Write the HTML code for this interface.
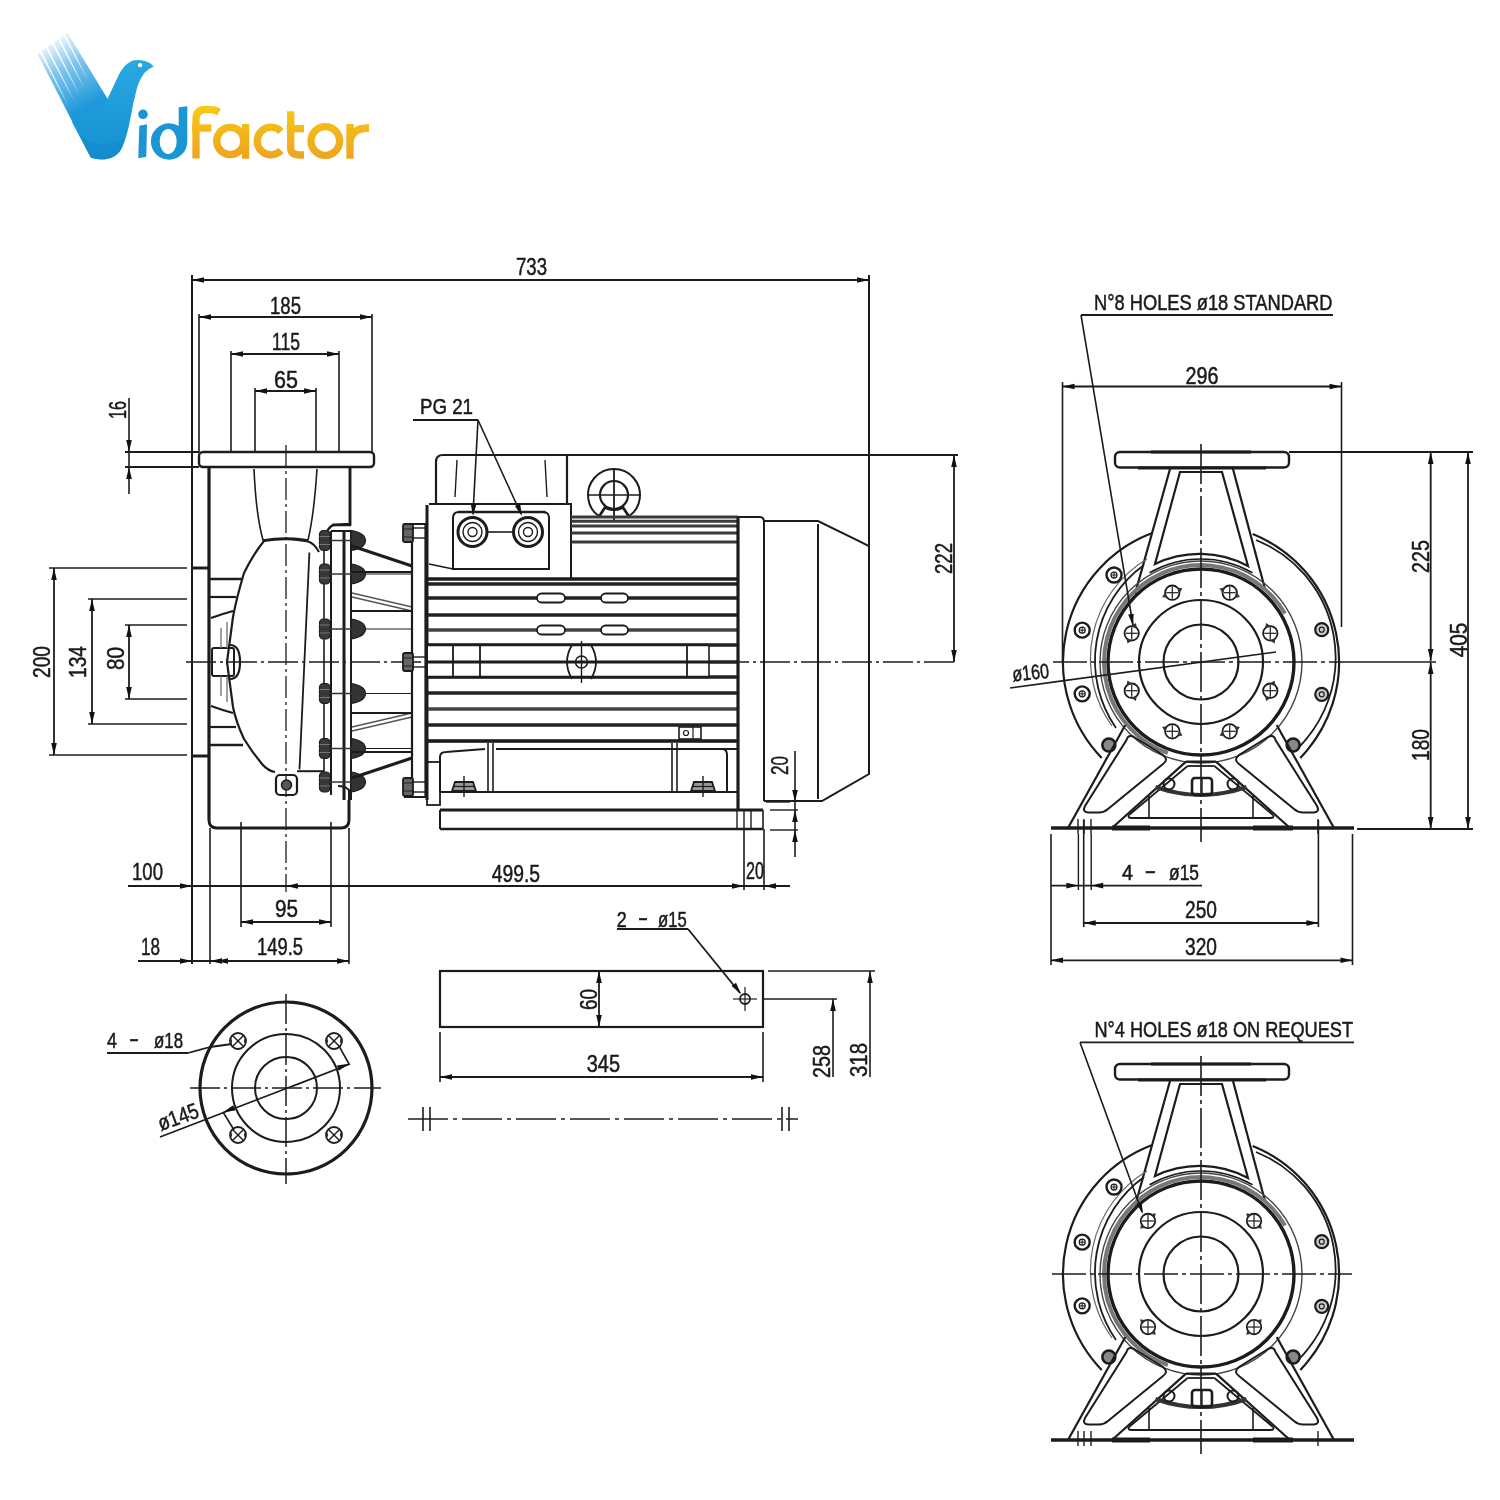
<!DOCTYPE html>
<html><head><meta charset="utf-8"><style>
html,body{margin:0;padding:0;background:#fff;}
svg{display:block;}
text{font-family:"Liberation Sans",sans-serif;} .dt{stroke:#1a1a1a;stroke-width:0.5;}
</style></head><body>
<svg width="1500" height="1500" viewBox="0 0 1500 1500">
<rect width="1500" height="1500" fill="#fff"/>
<g style="opacity:0.999">
<line x1="192" y1="275" x2="192" y2="964" stroke="#1c1c1c" stroke-width="2"/>
<line x1="869" y1="275" x2="869" y2="546" stroke="#1c1c1c" stroke-width="2"/>
<line x1="192" y1="280" x2="869" y2="280" stroke="#1c1c1c" stroke-width="1.8"/>
<polygon points="192.0,280.0 204.0,277.2 204.0,282.8" fill="#111"/>
<polygon points="869.0,280.0 857.0,282.8 857.0,277.2" fill="#111"/>
<text x="516" y="275" font-size="24.5" textLength="31" lengthAdjust="spacingAndGlyphs" fill="#1a1a1a" class="dt">733</text>
<line x1="199" y1="314" x2="199" y2="452" stroke="#1c1c1c" stroke-width="1.6"/>
<line x1="372" y1="314" x2="372" y2="452" stroke="#1c1c1c" stroke-width="1.6"/>
<line x1="199" y1="317" x2="372" y2="317" stroke="#1c1c1c" stroke-width="1.8"/>
<polygon points="199.0,317.0 211.0,314.2 211.0,319.8" fill="#111"/>
<polygon points="372.0,317.0 360.0,319.8 360.0,314.2" fill="#111"/>
<text x="270" y="314" font-size="24.5" textLength="31" lengthAdjust="spacingAndGlyphs" fill="#1a1a1a" class="dt">185</text>
<line x1="231" y1="351" x2="231" y2="452" stroke="#1c1c1c" stroke-width="1.6"/>
<line x1="339" y1="351" x2="339" y2="452" stroke="#1c1c1c" stroke-width="1.6"/>
<line x1="231" y1="354" x2="339" y2="354" stroke="#1c1c1c" stroke-width="1.8"/>
<polygon points="231.0,354.0 243.0,351.2 243.0,356.8" fill="#111"/>
<polygon points="339.0,354.0 327.0,356.8 327.0,351.2" fill="#111"/>
<text x="272" y="350" font-size="24.5" textLength="28" lengthAdjust="spacingAndGlyphs" fill="#1a1a1a" class="dt">115</text>
<line x1="255" y1="388" x2="255" y2="452" stroke="#1c1c1c" stroke-width="1.6"/>
<line x1="316" y1="388" x2="316" y2="452" stroke="#1c1c1c" stroke-width="1.6"/>
<line x1="255" y1="391" x2="316" y2="391" stroke="#1c1c1c" stroke-width="1.8"/>
<polygon points="255.0,391.0 267.0,388.2 267.0,393.8" fill="#111"/>
<polygon points="316.0,391.0 304.0,393.8 304.0,388.2" fill="#111"/>
<text x="274" y="388" font-size="24.5" textLength="24" lengthAdjust="spacingAndGlyphs" fill="#1a1a1a" class="dt">65</text>
<line x1="129" y1="398" x2="129" y2="494" stroke="#1c1c1c" stroke-width="1.6"/>
<polygon points="129.0,452.0 126.2,440.0 131.8,440.0" fill="#111"/>
<polygon points="129.0,467.0 131.8,479.0 126.2,479.0" fill="#111"/>
<line x1="125" y1="452" x2="199" y2="452" stroke="#1c1c1c" stroke-width="1.8"/>
<line x1="125" y1="467" x2="199" y2="467" stroke="#1c1c1c" stroke-width="1.8"/>
<text transform="translate(126,419) rotate(-90)" x="0" y="0" font-size="24.5" textLength="18" lengthAdjust="spacingAndGlyphs" fill="#1a1a1a" class="dt">16</text>
<rect x="199" y="452" width="175" height="15" rx="4" stroke="#1c1c1c" stroke-width="2.4" fill="none"/>
<line x1="286" y1="445" x2="286" y2="892" stroke="#1c1c1c" stroke-width="1.3" stroke-dasharray="22,4,3,4"/>
<line x1="49" y1="568" x2="187" y2="568" stroke="#1c1c1c" stroke-width="1.6"/>
<line x1="49" y1="755" x2="187" y2="755" stroke="#1c1c1c" stroke-width="1.6"/>
<line x1="88" y1="599" x2="187" y2="599" stroke="#1c1c1c" stroke-width="1.6"/>
<line x1="88" y1="724" x2="187" y2="724" stroke="#1c1c1c" stroke-width="1.6"/>
<line x1="125" y1="625" x2="187" y2="625" stroke="#1c1c1c" stroke-width="1.6"/>
<line x1="125" y1="699" x2="187" y2="699" stroke="#1c1c1c" stroke-width="1.6"/>
<line x1="54" y1="568" x2="54" y2="755" stroke="#1c1c1c" stroke-width="1.8"/>
<polygon points="54.0,568.0 56.8,580.0 51.2,580.0" fill="#111"/>
<polygon points="54.0,755.0 51.2,743.0 56.8,743.0" fill="#111"/>
<line x1="92" y1="599" x2="92" y2="724" stroke="#1c1c1c" stroke-width="1.8"/>
<polygon points="92.0,599.0 94.8,611.0 89.2,611.0" fill="#111"/>
<polygon points="92.0,724.0 89.2,712.0 94.8,712.0" fill="#111"/>
<line x1="129" y1="625" x2="129" y2="699" stroke="#1c1c1c" stroke-width="1.8"/>
<polygon points="129.0,625.0 131.8,637.0 126.2,637.0" fill="#111"/>
<polygon points="129.0,699.0 126.2,687.0 131.8,687.0" fill="#111"/>
<text transform="translate(50,678) rotate(-90)" x="0" y="0" font-size="24.5" textLength="32" lengthAdjust="spacingAndGlyphs" fill="#1a1a1a" class="dt">200</text>
<text transform="translate(86,678) rotate(-90)" x="0" y="0" font-size="24.5" textLength="32" lengthAdjust="spacingAndGlyphs" fill="#1a1a1a" class="dt">134</text>
<text transform="translate(124,670) rotate(-90)" x="0" y="0" font-size="24.5" textLength="23" lengthAdjust="spacingAndGlyphs" fill="#1a1a1a" class="dt">80</text>
<line x1="186" y1="662" x2="958" y2="662" stroke="#1c1c1c" stroke-width="1.3" stroke-dasharray="30,4,3,4"/>
<line x1="209" y1="467" x2="209" y2="820" stroke="#1c1c1c" stroke-width="3.2"/>
<path d="M209,820 Q209,828 217,828 L341,828 Q349,828 349,820 L349,800" stroke="#1c1c1c" stroke-width="3" fill="none" />
<line x1="192" y1="568" x2="209" y2="568" stroke="#1c1c1c" stroke-width="3"/>
<line x1="192" y1="756" x2="209" y2="756" stroke="#1c1c1c" stroke-width="3"/>
<path d="M350,467 L350,525 L332,525" stroke="#1c1c1c" stroke-width="2.4" fill="none" />
<line x1="567" y1="455" x2="958" y2="455" stroke="#1c1c1c" stroke-width="1.8"/>
<line x1="954" y1="455" x2="954" y2="662" stroke="#1c1c1c" stroke-width="1.8"/>
<polygon points="954.0,455.0 956.8,467.0 951.2,467.0" fill="#111"/>
<polygon points="954.0,662.0 951.2,650.0 956.8,650.0" fill="#111"/>
<text transform="translate(952,574) rotate(-90)" x="0" y="0" font-size="24.5" textLength="31" lengthAdjust="spacingAndGlyphs" fill="#1a1a1a" class="dt">222</text>
<line x1="128" y1="886" x2="790" y2="886" stroke="#1c1c1c" stroke-width="1.8"/>
<polygon points="192.0,886.0 180.0,888.8 180.0,883.2" fill="#111"/>
<polygon points="286.0,886.0 298.0,883.2 298.0,888.8" fill="#111"/>
<text x="132" y="880" font-size="24.5" textLength="31" lengthAdjust="spacingAndGlyphs" fill="#1a1a1a" class="dt">100</text>
<polygon points="744.0,886.0 732.0,888.8 732.0,883.2" fill="#111"/>
<polygon points="764.0,886.0 776.0,883.2 776.0,888.8" fill="#111"/>
<text x="491.7" y="881.7" font-size="24.5" textLength="48.30000000000001" lengthAdjust="spacingAndGlyphs" fill="#1a1a1a" class="dt">499.5</text>
<text x="746" y="879" font-size="24.5" textLength="18" lengthAdjust="spacingAndGlyphs" fill="#1a1a1a" class="dt">20</text>
<line x1="744" y1="829" x2="744" y2="890" stroke="#1c1c1c" stroke-width="1.6"/>
<line x1="764" y1="829" x2="764" y2="890" stroke="#1c1c1c" stroke-width="1.6"/>
<line x1="241" y1="822" x2="241" y2="927" stroke="#1c1c1c" stroke-width="1.6"/>
<line x1="331" y1="822" x2="331" y2="927" stroke="#1c1c1c" stroke-width="1.6"/>
<line x1="241" y1="922" x2="331" y2="922" stroke="#1c1c1c" stroke-width="1.8"/>
<polygon points="241.0,922.0 253.0,919.2 253.0,924.8" fill="#111"/>
<polygon points="331.0,922.0 319.0,924.8 319.0,919.2" fill="#111"/>
<text x="275" y="917" font-size="24.5" textLength="23" lengthAdjust="spacingAndGlyphs" fill="#1a1a1a" class="dt">95</text>
<line x1="138" y1="961" x2="349" y2="961" stroke="#1c1c1c" stroke-width="1.8"/>
<line x1="210" y1="828" x2="210" y2="964" stroke="#1c1c1c" stroke-width="1.6"/>
<line x1="349" y1="828" x2="349" y2="964" stroke="#1c1c1c" stroke-width="1.6"/>
<polygon points="192.0,961.0 180.0,963.8 180.0,958.2" fill="#111"/>
<polygon points="210.0,961.0 222.0,958.2 222.0,963.8" fill="#111"/>
<polygon points="349.0,961.0 337.0,963.8 337.0,958.2" fill="#111"/>
<text x="141" y="955" font-size="24.5" textLength="19" lengthAdjust="spacingAndGlyphs" fill="#1a1a1a" class="dt">18</text>
<text x="257" y="955" font-size="24.5" textLength="46" lengthAdjust="spacingAndGlyphs" fill="#1a1a1a" class="dt">149.5</text>
<polygon points="216.0,961.0 228.0,958.2 228.0,963.8" fill="#111"/>
<line x1="795" y1="751" x2="795" y2="857" stroke="#1c1c1c" stroke-width="1.6"/>
<polygon points="795.0,802.0 792.2,790.0 797.8,790.0" fill="#111"/>
<polygon points="795.0,810.0 797.8,822.0 792.2,822.0" fill="#111"/>
<line x1="766" y1="802" x2="790" y2="802" stroke="#1c1c1c" stroke-width="1.4"/>
<line x1="770" y1="810" x2="798" y2="810" stroke="#1c1c1c" stroke-width="1.4"/>
<line x1="770" y1="830" x2="798" y2="830" stroke="#1c1c1c" stroke-width="1.4"/>
<polygon points="795.0,830.0 797.8,842.0 792.2,842.0" fill="#111"/>
<text transform="translate(788,775) rotate(-90)" x="0" y="0" font-size="24.5" textLength="19" lengthAdjust="spacingAndGlyphs" fill="#1a1a1a" class="dt">20</text>
<rect x="440" y="971" width="323" height="56" rx="0" stroke="#1c1c1c" stroke-width="2.2" fill="none"/>
<line x1="599" y1="971" x2="599" y2="1027" stroke="#1c1c1c" stroke-width="1.8"/>
<polygon points="599.0,971.0 601.8,983.0 596.2,983.0" fill="#111"/>
<polygon points="599.0,1027.0 596.2,1015.0 601.8,1015.0" fill="#111"/>
<text transform="translate(597,1010) rotate(-90)" x="0" y="0" font-size="24.5" textLength="21" lengthAdjust="spacingAndGlyphs" fill="#1a1a1a" class="dt">60</text>
<circle cx="745" cy="999" r="5" stroke="#1c1c1c" stroke-width="1.8" fill="none"/>
<line x1="733" y1="999" x2="757" y2="999" stroke="#1c1c1c" stroke-width="1.2"/>
<line x1="745" y1="987" x2="745" y2="1011" stroke="#1c1c1c" stroke-width="1.2"/>
<line x1="617" y1="929" x2="688" y2="929" stroke="#1c1c1c" stroke-width="1.8"/>
<line x1="688" y1="929" x2="740" y2="993" stroke="#1c1c1c" stroke-width="1.8"/>
<polygon points="741.0,994.0 731.6,986.1 736.0,982.7" fill="#111"/>
<text x="616.7" y="927" font-size="22" textLength="10.0" lengthAdjust="spacingAndGlyphs" fill="#1a1a1a" class="dt">2</text>
<text x="638" y="925" font-size="22" textLength="10" lengthAdjust="spacingAndGlyphs" fill="#1a1a1a" class="dt">-</text>
<text x="658" y="927" font-size="22" textLength="28.700000000000045" lengthAdjust="spacingAndGlyphs" fill="#1a1a1a" class="dt">ø15</text>
<line x1="440" y1="1032" x2="440" y2="1082" stroke="#1c1c1c" stroke-width="1.6"/>
<line x1="763" y1="1032" x2="763" y2="1082" stroke="#1c1c1c" stroke-width="1.6"/>
<line x1="440" y1="1077" x2="763" y2="1077" stroke="#1c1c1c" stroke-width="1.8"/>
<polygon points="440.0,1077.0 452.0,1074.2 452.0,1079.8" fill="#111"/>
<polygon points="763.0,1077.0 751.0,1079.8 751.0,1074.2" fill="#111"/>
<text x="586.7" y="1071.7" font-size="24.5" textLength="33.299999999999955" lengthAdjust="spacingAndGlyphs" fill="#1a1a1a" class="dt">345</text>
<line x1="768" y1="971" x2="875" y2="971" stroke="#1c1c1c" stroke-width="1.6"/>
<line x1="763" y1="999" x2="837" y2="999" stroke="#1c1c1c" stroke-width="1.6"/>
<line x1="870" y1="971" x2="870" y2="1077" stroke="#1c1c1c" stroke-width="1.6"/>
<polygon points="870.0,971.0 872.8,983.0 867.2,983.0" fill="#111"/>
<line x1="833" y1="999" x2="833" y2="1077" stroke="#1c1c1c" stroke-width="1.6"/>
<polygon points="833.0,999.0 835.8,1011.0 830.2,1011.0" fill="#111"/>
<text transform="translate(866.7,1077) rotate(-90)" x="0" y="0" font-size="24.5" textLength="34" lengthAdjust="spacingAndGlyphs" fill="#1a1a1a" class="dt">318</text>
<text transform="translate(830,1078) rotate(-90)" x="0" y="0" font-size="24.5" textLength="33" lengthAdjust="spacingAndGlyphs" fill="#1a1a1a" class="dt">258</text>
<line x1="408" y1="1119" x2="798" y2="1119" stroke="#1c1c1c" stroke-width="1.6" stroke-dasharray="40,5,4,5"/>
<line x1="423" y1="1107" x2="423" y2="1131" stroke="#1c1c1c" stroke-width="1.6"/>
<line x1="430" y1="1107" x2="430" y2="1131" stroke="#1c1c1c" stroke-width="1.6"/>
<line x1="782" y1="1107" x2="782" y2="1131" stroke="#1c1c1c" stroke-width="1.6"/>
<line x1="789" y1="1107" x2="789" y2="1131" stroke="#1c1c1c" stroke-width="1.6"/>
<circle cx="286" cy="1088" r="86" stroke="#1c1c1c" stroke-width="3.2" fill="none"/>
<circle cx="286" cy="1088" r="54" stroke="#1c1c1c" stroke-width="2" fill="none"/>
<circle cx="286" cy="1088" r="31" stroke="#1c1c1c" stroke-width="2" fill="none"/>
<line x1="190" y1="1088" x2="381" y2="1088" stroke="#1c1c1c" stroke-width="1.5" stroke-dasharray="30,4,3,4"/>
<line x1="286" y1="994" x2="286" y2="1184" stroke="#1c1c1c" stroke-width="1.5" stroke-dasharray="30,4,3,4"/>
<circle cx="238" cy="1041" r="8" stroke="#1c1c1c" stroke-width="1.8" fill="none"/>
<line x1="232.5" y1="1035.5" x2="243.5" y2="1046.5" stroke="#1c1c1c" stroke-width="1.4"/>
<line x1="232.5" y1="1046.5" x2="243.5" y2="1035.5" stroke="#1c1c1c" stroke-width="1.4"/>
<polygon points="229.0,1041.0 232.0,1039.0 232.0,1043.0" fill="#333"/>
<polygon points="247.0,1041.0 244.0,1043.0 244.0,1039.0" fill="#333"/>
<circle cx="334" cy="1041" r="8" stroke="#1c1c1c" stroke-width="1.8" fill="none"/>
<line x1="328.5" y1="1035.5" x2="339.5" y2="1046.5" stroke="#1c1c1c" stroke-width="1.4"/>
<line x1="328.5" y1="1046.5" x2="339.5" y2="1035.5" stroke="#1c1c1c" stroke-width="1.4"/>
<polygon points="325.0,1041.0 328.0,1039.0 328.0,1043.0" fill="#333"/>
<polygon points="343.0,1041.0 340.0,1043.0 340.0,1039.0" fill="#333"/>
<circle cx="238" cy="1135" r="8" stroke="#1c1c1c" stroke-width="1.8" fill="none"/>
<line x1="232.5" y1="1129.5" x2="243.5" y2="1140.5" stroke="#1c1c1c" stroke-width="1.4"/>
<line x1="232.5" y1="1140.5" x2="243.5" y2="1129.5" stroke="#1c1c1c" stroke-width="1.4"/>
<polygon points="229.0,1135.0 232.0,1133.0 232.0,1137.0" fill="#333"/>
<polygon points="247.0,1135.0 244.0,1137.0 244.0,1133.0" fill="#333"/>
<circle cx="334" cy="1135" r="8" stroke="#1c1c1c" stroke-width="1.8" fill="none"/>
<line x1="328.5" y1="1129.5" x2="339.5" y2="1140.5" stroke="#1c1c1c" stroke-width="1.4"/>
<line x1="328.5" y1="1140.5" x2="339.5" y2="1129.5" stroke="#1c1c1c" stroke-width="1.4"/>
<polygon points="325.0,1135.0 328.0,1133.0 328.0,1137.0" fill="#333"/>
<polygon points="343.0,1135.0 340.0,1137.0 340.0,1133.0" fill="#333"/>
<line x1="107" y1="1053" x2="188" y2="1053" stroke="#1c1c1c" stroke-width="1.8"/>
<line x1="188" y1="1053" x2="210" y2="1047" stroke="#1c1c1c" stroke-width="1.8"/>
<line x1="210" y1="1047" x2="232" y2="1044" stroke="#1c1c1c" stroke-width="1.8"/>
<text x="107" y="1048" font-size="22" textLength="10" lengthAdjust="spacingAndGlyphs" fill="#1a1a1a" class="dt">4</text>
<text x="129" y="1046" font-size="22" textLength="10" lengthAdjust="spacingAndGlyphs" fill="#1a1a1a" class="dt">-</text>
<text x="154" y="1048" font-size="22" textLength="29" lengthAdjust="spacingAndGlyphs" fill="#1a1a1a" class="dt">ø18</text>
<line x1="160" y1="1137" x2="350" y2="1064" stroke="#1c1c1c" stroke-width="1.8"/>
<text transform="translate(161,1131) rotate(-20)" x="0" y="0" font-size="22" textLength="42" lengthAdjust="spacingAndGlyphs" fill="#1a1a1a" class="dt">ø145</text>
<polygon points="349.0,1063.8 338.8,1070.7 336.8,1065.5" fill="#111"/>
<polygon points="223.0,1112.2 233.2,1105.3 235.2,1110.5" fill="#111"/>
<line x1="349" y1="1064" x2="339" y2="1046" stroke="#1c1c1c" stroke-width="1.6"/>
<line x1="223" y1="1112" x2="234" y2="1130" stroke="#1c1c1c" stroke-width="1.6"/>
<path d="M254,469 Q256,515 263,540 Q286,536 308,540 Q314,515 317,469" stroke="#1c1c1c" stroke-width="1.6" fill="none" />
<path d="M319,552 Q314,543 308,541.5 Q286,537 264,541 Q254,553 244,573 Q236,600 233,617 L227,662 L233,707 Q236,722 244,739 Q252,752 262,764 Q268,771 275,772" stroke="#1c1c1c" stroke-width="2.2" fill="none" />
<line x1="297" y1="771.2" x2="324" y2="771.2" stroke="#1c1c1c" stroke-width="2"/>
<line x1="309.4" y1="552.5" x2="299.5" y2="769.4" stroke="#1c1c1c" stroke-width="1.8"/>
<path d="M233,611 Q222,614 211,618" stroke="#1c1c1c" stroke-width="2.2" fill="none" />
<path d="M233,713 Q222,710 211,706" stroke="#1c1c1c" stroke-width="2.2" fill="none" />
<line x1="210" y1="579" x2="243" y2="579" stroke="#1c1c1c" stroke-width="2.6"/>
<line x1="210" y1="597" x2="236" y2="597" stroke="#1c1c1c" stroke-width="2.2"/>
<line x1="210" y1="745" x2="243" y2="745" stroke="#1c1c1c" stroke-width="2.6"/>
<line x1="210" y1="727" x2="236" y2="727" stroke="#1c1c1c" stroke-width="2.2"/>
<rect x="212" y="648" width="22" height="28" rx="2" stroke="#1c1c1c" stroke-width="2" fill="none"/>
<path d="M230,645 Q240,645 240,662 Q240,679 230,679" stroke="#1c1c1c" stroke-width="2.2" fill="none" />
<line x1="221" y1="628" x2="221" y2="648" stroke="#777" stroke-width="1.4"/>
<line x1="227" y1="622" x2="227" y2="648" stroke="#777" stroke-width="1.4"/>
<line x1="221" y1="676" x2="221" y2="696" stroke="#777" stroke-width="1.4"/>
<line x1="227" y1="676" x2="227" y2="702" stroke="#777" stroke-width="1.4"/>
<path d="M350,467 L350,524 L333,525 Q328,528 326,534" stroke="#1c1c1c" stroke-width="2.6" fill="none" />
<path d="M349,800 L349,790 Q345,786 338,786" stroke="#1c1c1c" stroke-width="2" fill="none" />
<line x1="324" y1="534" x2="324" y2="790" stroke="#1c1c1c" stroke-width="1.6"/>
<line x1="331" y1="531" x2="331" y2="795" stroke="#1c1c1c" stroke-width="2"/>
<line x1="344" y1="531" x2="344" y2="800" stroke="#1c1c1c" stroke-width="3"/>
<line x1="351" y1="531" x2="351" y2="800" stroke="#1c1c1c" stroke-width="2"/>
<line x1="331" y1="531" x2="351" y2="531" stroke="#1c1c1c" stroke-width="2"/>
<rect x="319.5" y="530.5" width="10.5" height="20" rx="4" stroke="#1c1c1c" stroke-width="1.2" fill="#3a3a3a"/>
<line x1="319.5" y1="536.5" x2="330" y2="536.5" stroke="#777" stroke-width="1"/>
<line x1="319.5" y1="544.5" x2="330" y2="544.5" stroke="#777" stroke-width="1"/>
<path d="M351,530.5 Q365,532.5 365.5,540.5 Q365,548.5 351,550.5 Z" stroke="#1c1c1c" stroke-width="1.2" fill="#333" />
<line x1="319" y1="540.5" x2="365" y2="540.5" stroke="#333" stroke-width="1.3"/>
<rect x="319.5" y="564" width="10.5" height="20" rx="4" stroke="#1c1c1c" stroke-width="1.2" fill="#3a3a3a"/>
<line x1="319.5" y1="570" x2="330" y2="570" stroke="#777" stroke-width="1"/>
<line x1="319.5" y1="578" x2="330" y2="578" stroke="#777" stroke-width="1"/>
<path d="M351,564 Q365,566 365.5,574 Q365,582 351,584 Z" stroke="#1c1c1c" stroke-width="1.2" fill="#333" />
<line x1="319" y1="574" x2="365" y2="574" stroke="#333" stroke-width="1.3"/>
<rect x="319.5" y="619" width="10.5" height="20" rx="4" stroke="#1c1c1c" stroke-width="1.2" fill="#3a3a3a"/>
<line x1="319.5" y1="625" x2="330" y2="625" stroke="#777" stroke-width="1"/>
<line x1="319.5" y1="633" x2="330" y2="633" stroke="#777" stroke-width="1"/>
<path d="M351,619 Q365,621 365.5,629 Q365,637 351,639 Z" stroke="#1c1c1c" stroke-width="1.2" fill="#333" />
<line x1="319" y1="629" x2="365" y2="629" stroke="#333" stroke-width="1.3"/>
<rect x="319.5" y="683.5" width="10.5" height="20" rx="4" stroke="#1c1c1c" stroke-width="1.2" fill="#3a3a3a"/>
<line x1="319.5" y1="689.5" x2="330" y2="689.5" stroke="#777" stroke-width="1"/>
<line x1="319.5" y1="697.5" x2="330" y2="697.5" stroke="#777" stroke-width="1"/>
<path d="M351,683.5 Q365,685.5 365.5,693.5 Q365,701.5 351,703.5 Z" stroke="#1c1c1c" stroke-width="1.2" fill="#333" />
<line x1="319" y1="693.5" x2="365" y2="693.5" stroke="#333" stroke-width="1.3"/>
<rect x="319.5" y="738.5" width="10.5" height="20" rx="4" stroke="#1c1c1c" stroke-width="1.2" fill="#3a3a3a"/>
<line x1="319.5" y1="744.5" x2="330" y2="744.5" stroke="#777" stroke-width="1"/>
<line x1="319.5" y1="752.5" x2="330" y2="752.5" stroke="#777" stroke-width="1"/>
<path d="M351,738.5 Q365,740.5 365.5,748.5 Q365,756.5 351,758.5 Z" stroke="#1c1c1c" stroke-width="1.2" fill="#333" />
<line x1="319" y1="748.5" x2="365" y2="748.5" stroke="#333" stroke-width="1.3"/>
<rect x="319.5" y="772" width="10.5" height="20" rx="4" stroke="#1c1c1c" stroke-width="1.2" fill="#3a3a3a"/>
<line x1="319.5" y1="778" x2="330" y2="778" stroke="#777" stroke-width="1"/>
<line x1="319.5" y1="786" x2="330" y2="786" stroke="#777" stroke-width="1"/>
<path d="M351,772 Q365,774 365.5,782 Q365,790 351,792 Z" stroke="#1c1c1c" stroke-width="1.2" fill="#333" />
<line x1="319" y1="782" x2="365" y2="782" stroke="#333" stroke-width="1.3"/>
<line x1="365" y1="574" x2="412" y2="574" stroke="#1c1c1c" stroke-width="1.2"/>
<line x1="365" y1="629" x2="412" y2="629" stroke="#1c1c1c" stroke-width="1.2"/>
<line x1="365" y1="693.5" x2="412" y2="693.5" stroke="#1c1c1c" stroke-width="1.2"/>
<line x1="365" y1="748.5" x2="412" y2="748.5" stroke="#1c1c1c" stroke-width="1.2"/>
<rect x="276" y="775" width="21" height="20" rx="4" stroke="#1c1c1c" stroke-width="2.2" fill="none"/>
<circle cx="286.5" cy="785" r="5" stroke="#1c1c1c" stroke-width="1.5" fill="#555"/>
<line x1="352" y1="546" x2="412" y2="566" stroke="#1c1c1c" stroke-width="3"/>
<line x1="352" y1="572" x2="412" y2="572" stroke="#1c1c1c" stroke-width="1.8"/>
<path d="M352,593 L412,607 M352,597 L412,611" stroke="#555" stroke-width="1.6" fill="none" />
<line x1="352" y1="611" x2="412" y2="611" stroke="#1c1c1c" stroke-width="1.8"/>
<line x1="352" y1="778" x2="412" y2="758" stroke="#1c1c1c" stroke-width="3"/>
<line x1="352" y1="752" x2="412" y2="752" stroke="#1c1c1c" stroke-width="1.8"/>
<path d="M352,731 L412,717 M352,727 L412,713" stroke="#555" stroke-width="1.6" fill="none" />
<line x1="352" y1="713" x2="412" y2="713" stroke="#1c1c1c" stroke-width="1.8"/>
<line x1="412" y1="524" x2="412" y2="797" stroke="#1c1c1c" stroke-width="2.2"/>
<line x1="425.5" y1="524" x2="425.5" y2="797" stroke="#1c1c1c" stroke-width="2.2"/>
<line x1="404" y1="524" x2="426" y2="524" stroke="#1c1c1c" stroke-width="2"/>
<rect x="403" y="524" width="10" height="18" rx="2" stroke="#1c1c1c" stroke-width="1.8" fill="#666"/>
<line x1="403" y1="529" x2="413" y2="529" stroke="#222" stroke-width="1"/>
<line x1="403" y1="537" x2="413" y2="537" stroke="#222" stroke-width="1"/>
<line x1="412" y1="528" x2="426" y2="528" stroke="#1c1c1c" stroke-width="1.4"/>
<line x1="412" y1="538" x2="426" y2="538" stroke="#1c1c1c" stroke-width="1.4"/>
<rect x="403" y="653" width="10" height="18" rx="2" stroke="#1c1c1c" stroke-width="1.8" fill="#666"/>
<line x1="403" y1="658" x2="413" y2="658" stroke="#222" stroke-width="1"/>
<line x1="403" y1="666" x2="413" y2="666" stroke="#222" stroke-width="1"/>
<line x1="412" y1="657" x2="426" y2="657" stroke="#1c1c1c" stroke-width="1.4"/>
<line x1="412" y1="667" x2="426" y2="667" stroke="#1c1c1c" stroke-width="1.4"/>
<rect x="403" y="778" width="10" height="18" rx="2" stroke="#1c1c1c" stroke-width="1.8" fill="#666"/>
<line x1="403" y1="783" x2="413" y2="783" stroke="#222" stroke-width="1"/>
<line x1="403" y1="791" x2="413" y2="791" stroke="#222" stroke-width="1"/>
<line x1="412" y1="782" x2="426" y2="782" stroke="#1c1c1c" stroke-width="1.4"/>
<line x1="412" y1="792" x2="426" y2="792" stroke="#1c1c1c" stroke-width="1.4"/>
<line x1="404" y1="797" x2="426" y2="797" stroke="#1c1c1c" stroke-width="2"/>
<line x1="427" y1="505" x2="427" y2="800" stroke="#1c1c1c" stroke-width="3"/>
<path d="M436,503 L436,462 Q436,455 443,455 L567,455 L567,503" stroke="#1c1c1c" stroke-width="2.2" fill="none" />
<path d="M457,460 L455,497 M545,460 L547,497" stroke="#1c1c1c" stroke-width="1.4" fill="none" />
<line x1="436" y1="504" x2="460" y2="504" stroke="#1c1c1c" stroke-width="2"/>
<line x1="470" y1="504" x2="505" y2="504" stroke="#1c1c1c" stroke-width="2"/>
<line x1="515" y1="504" x2="567" y2="504" stroke="#1c1c1c" stroke-width="2"/>
<path d="M429,504 L571,504 L571,579" stroke="#1c1c1c" stroke-width="2" fill="none" />
<path d="M453,569 L453,518 Q453,512 459,512 L543,512 Q549,512 549,518 L549,569 Z" stroke="#1c1c1c" stroke-width="2" fill="none" />
<line x1="429" y1="564" x2="453" y2="569" stroke="#1c1c1c" stroke-width="1.6"/>
<line x1="458" y1="512" x2="545" y2="512" stroke="#1c1c1c" stroke-width="2.4"/>
<circle cx="472.5" cy="532" r="14.5" stroke="#1c1c1c" stroke-width="3" fill="none"/>
<circle cx="472.5" cy="532" r="9.5" stroke="#1c1c1c" stroke-width="1.4" fill="none"/>
<circle cx="472.5" cy="532" r="4.5" stroke="#1c1c1c" stroke-width="1.4" fill="none"/>
<circle cx="528" cy="532" r="14.5" stroke="#1c1c1c" stroke-width="3" fill="none"/>
<circle cx="528" cy="532" r="9.5" stroke="#1c1c1c" stroke-width="1.4" fill="none"/>
<circle cx="528" cy="532" r="4.5" stroke="#1c1c1c" stroke-width="1.4" fill="none"/>
<line x1="487" y1="532" x2="513" y2="532" stroke="#1c1c1c" stroke-width="1.6"/>
<path d="M599.1,516.3 A26,26 0 1,1 628.9,516.3" stroke="#1c1c1c" stroke-width="2" fill="none" />
<circle cx="614" cy="495" r="14" stroke="#1c1c1c" stroke-width="2.2" fill="none"/>
<line x1="614" y1="468" x2="614" y2="522" stroke="#1c1c1c" stroke-width="1.8"/>
<line x1="587" y1="495" x2="641" y2="495" stroke="#1c1c1c" stroke-width="1.6"/>
<path d="M599,516.5 L605,507.5 Q614,512 623,507.5 L629,516.5" stroke="#1c1c1c" stroke-width="2.8" fill="none" />
<line x1="571" y1="517" x2="738" y2="517" stroke="#3a3a3a" stroke-width="3"/>
<line x1="571" y1="521.3" x2="738" y2="521.3" stroke="#3a3a3a" stroke-width="3"/>
<line x1="571" y1="526" x2="738" y2="526" stroke="#3a3a3a" stroke-width="3"/>
<line x1="571" y1="533" x2="738" y2="533" stroke="#3a3a3a" stroke-width="3"/>
<line x1="571" y1="542" x2="738" y2="542" stroke="#3a3a3a" stroke-width="3"/>
<line x1="571" y1="579" x2="738" y2="579" stroke="#1c1c1c" stroke-width="3.6"/>
<line x1="428" y1="584" x2="738" y2="584" stroke="#222" stroke-width="3.6"/>
<line x1="428" y1="598" x2="738" y2="598" stroke="#222" stroke-width="3.6"/>
<line x1="428" y1="615" x2="738" y2="615" stroke="#222" stroke-width="3.6"/>
<line x1="428" y1="630" x2="738" y2="630" stroke="#444" stroke-width="3.6"/>
<line x1="428" y1="645" x2="738" y2="645" stroke="#222" stroke-width="3.6"/>
<line x1="428" y1="662" x2="738" y2="662" stroke="#222" stroke-width="3.6"/>
<line x1="428" y1="677" x2="738" y2="677" stroke="#222" stroke-width="3.6"/>
<line x1="428" y1="693" x2="738" y2="693" stroke="#222" stroke-width="3.6"/>
<line x1="428" y1="709" x2="738" y2="709" stroke="#444" stroke-width="3.6"/>
<line x1="428" y1="725" x2="738" y2="725" stroke="#222" stroke-width="3.6"/>
<line x1="428" y1="741" x2="738" y2="741" stroke="#222" stroke-width="3.6"/>
<line x1="428" y1="579" x2="571" y2="579" stroke="#1c1c1c" stroke-width="3.4"/>
<rect x="537" y="593.5" width="28" height="9" rx="4.5" stroke="#1c1c1c" stroke-width="1.8" fill="#fff"/>
<rect x="601" y="593.5" width="27" height="9" rx="4.5" stroke="#1c1c1c" stroke-width="1.8" fill="#fff"/>
<rect x="537" y="625.5" width="28" height="9" rx="4.5" stroke="#1c1c1c" stroke-width="1.8" fill="#fff"/>
<rect x="601" y="625.5" width="27" height="9" rx="4.5" stroke="#1c1c1c" stroke-width="1.8" fill="#fff"/>
<rect x="428" y="645" width="281" height="32" rx="0" stroke="#1c1c1c" stroke-width="0" fill="#fff"/>
<line x1="428" y1="645" x2="709" y2="645" stroke="#1c1c1c" stroke-width="2.4"/>
<line x1="428" y1="677" x2="709" y2="677" stroke="#1c1c1c" stroke-width="2.4"/>
<line x1="428" y1="662" x2="709" y2="662" stroke="#1c1c1c" stroke-width="3"/>
<line x1="453" y1="645" x2="453" y2="677" stroke="#1c1c1c" stroke-width="1.8"/>
<line x1="480" y1="645" x2="480" y2="677" stroke="#1c1c1c" stroke-width="1.8"/>
<line x1="687" y1="645" x2="687" y2="677" stroke="#1c1c1c" stroke-width="1.8"/>
<line x1="709" y1="645" x2="709" y2="677" stroke="#1c1c1c" stroke-width="1.6"/>
<path d="M572,645 Q562,662 572,679 M591,645 Q601,662 591,679" stroke="#1c1c1c" stroke-width="1.8" fill="none" />
<circle cx="581.5" cy="662" r="6" stroke="#1c1c1c" stroke-width="1.5" fill="none"/>
<line x1="581.5" y1="641" x2="581.5" y2="683" stroke="#1c1c1c" stroke-width="1.4"/>
<rect x="679" y="727" width="22" height="12" rx="0" stroke="#1c1c1c" stroke-width="1.6" fill="#fff"/>
<circle cx="686" cy="733" r="2.5" stroke="#1c1c1c" stroke-width="1.2" fill="none"/>
<line x1="693" y1="727" x2="693" y2="739" stroke="#1c1c1c" stroke-width="1.2"/>
<line x1="428" y1="741" x2="738" y2="741" stroke="#1c1c1c" stroke-width="2.6"/>
<line x1="496" y1="749" x2="738" y2="749" stroke="#1c1c1c" stroke-width="2.2"/>
<path d="M440,792 L440,757 Q440,752 446,752 L485,749" stroke="#1c1c1c" stroke-width="2" fill="none" />
<line x1="488" y1="743" x2="488" y2="792" stroke="#1c1c1c" stroke-width="1.6"/>
<line x1="493" y1="743" x2="493" y2="792" stroke="#1c1c1c" stroke-width="1.6"/>
<line x1="672" y1="743" x2="672" y2="792" stroke="#1c1c1c" stroke-width="1.6"/>
<line x1="677" y1="743" x2="677" y2="792" stroke="#1c1c1c" stroke-width="1.6"/>
<path d="M678,749 L722,749 Q727,749 727,755 L727,792" stroke="#1c1c1c" stroke-width="2" fill="none" />
<line x1="440" y1="792" x2="738" y2="792" stroke="#1c1c1c" stroke-width="1.8"/>
<rect x="427" y="762" width="13" height="43" rx="0" stroke="#1c1c1c" stroke-width="1.8" fill="none"/>
<path d="M452,791 L455,782 L473,782 L476,791 Z" stroke="#1c1c1c" stroke-width="1.8" fill="#999" />
<line x1="454" y1="786.5" x2="474" y2="786.5" stroke="#1c1c1c" stroke-width="1.2"/>
<line x1="464" y1="776" x2="464" y2="797" stroke="#1c1c1c" stroke-width="1.4"/>
<path d="M691,791 L694,782 L712,782 L715,791 Z" stroke="#1c1c1c" stroke-width="1.8" fill="#999" />
<line x1="693" y1="786.5" x2="713" y2="786.5" stroke="#1c1c1c" stroke-width="1.2"/>
<line x1="703" y1="776" x2="703" y2="797" stroke="#1c1c1c" stroke-width="1.4"/>
<line x1="440" y1="810" x2="763" y2="810" stroke="#1c1c1c" stroke-width="3"/>
<line x1="440" y1="829" x2="763" y2="829" stroke="#1c1c1c" stroke-width="2.4"/>
<line x1="440" y1="810" x2="440" y2="829" stroke="#1c1c1c" stroke-width="2"/>
<line x1="737" y1="810" x2="737" y2="829" stroke="#1c1c1c" stroke-width="1.4"/>
<line x1="744" y1="810" x2="744" y2="829" stroke="#1c1c1c" stroke-width="1.4"/>
<line x1="751" y1="810" x2="751" y2="829" stroke="#1c1c1c" stroke-width="1.4"/>
<line x1="763" y1="810" x2="763" y2="829" stroke="#1c1c1c" stroke-width="1.6"/>
<line x1="738" y1="517" x2="738" y2="810" stroke="#1c1c1c" stroke-width="3.2"/>
<path d="M738,517 L760,517 Q764,517 764,522 L764,801" stroke="#1c1c1c" stroke-width="2" fill="none" />
<path d="M764,521 L818,521 L869,546 L869,774 L822,801 L764,801" stroke="#1c1c1c" stroke-width="2" fill="none" />
<line x1="818" y1="524" x2="818" y2="799" stroke="#1c1c1c" stroke-width="2"/>
<rect x="1115" y="452" width="174" height="15.5" rx="5" stroke="#1c1c1c" stroke-width="2.4" fill="none"/>
<line x1="1138" y1="468" x2="1266" y2="468" stroke="#1c1c1c" stroke-width="3"/>
<line x1="1151" y1="452" x2="1251" y2="452" stroke="#1c1c1c" stroke-width="3.2"/>
<line x1="1170" y1="469" x2="1135" y2="594" stroke="#1c1c1c" stroke-width="2.2"/>
<line x1="1233" y1="469" x2="1265" y2="589" stroke="#1c1c1c" stroke-width="2.2"/>
<path d="M1180,472 L1222,472 L1248,566 A103,103 0 0,0 1155,564 Z" stroke="#1c1c1c" stroke-width="2.2" fill="none" />
<path d="M1101.7,757.9 A138,138 0 0,1 1151.5,533.2" stroke="#1c1c1c" stroke-width="2.2" fill="none" />
<path d="M1252.7,534.0 A138,138 0 0,1 1300.3,757.9" stroke="#1c1c1c" stroke-width="2.2" fill="none" />
<path d="M1144,565 A118,118 0 0,0 1116,728" stroke="#1c1c1c" stroke-width="1.8" fill="none" />
<path d="M1147,559 A116,116 0 0,0 1112,726" stroke="#666" stroke-width="1.2" fill="none" />
<path d="M1256,540 A127,127 0 0,1 1296,750" stroke="#1c1c1c" stroke-width="1.8" fill="none" />
<circle cx="1201" cy="662" r="93" stroke="#1c1c1c" stroke-width="3.4" fill="none"/>
<circle cx="1201" cy="662" r="101" stroke="#444" stroke-width="1.4" fill="none"/>
<path d="M1167.8,753.2 A97,97 0 1,1 1285.0,613.5" stroke="#777" stroke-width="4" fill="none" />
<path d="M1149.5,572.8 A103,103 0 0,1 1252.5,572.8" stroke="#1c1c1c" stroke-width="1.6" fill="none" />
<circle cx="1201" cy="662" r="62" stroke="#1c1c1c" stroke-width="2.2" fill="none"/>
<circle cx="1201" cy="662" r="37.5" stroke="#1c1c1c" stroke-width="2.2" fill="none"/>
<line x1="1201" y1="444" x2="1201" y2="842" stroke="#1c1c1c" stroke-width="1.6" stroke-dasharray="40,4,4,4"/>
<circle cx="1114.0258659140547" cy="575.0258659140546" r="7.5" stroke="#1c1c1c" stroke-width="2.4" fill="none"/>
<circle cx="1114.0258659140547" cy="575.0258659140546" r="3" stroke="#1c1c1c" stroke-width="1.2" fill="none"/>
<line x1="1111.0258659140547" y1="575.0258659140546" x2="1117.0258659140547" y2="575.0258659140546" stroke="#1c1c1c" stroke-width="1"/>
<line x1="1114.0258659140547" y1="572.0258659140546" x2="1114.0258659140547" y2="578.0258659140546" stroke="#1c1c1c" stroke-width="1"/>
<circle cx="1082.1911233664446" cy="630.1652574523899" r="7.5" stroke="#1c1c1c" stroke-width="2.4" fill="none"/>
<circle cx="1082.1911233664446" cy="630.1652574523899" r="3" stroke="#1c1c1c" stroke-width="1.2" fill="none"/>
<line x1="1079.1911233664446" y1="630.1652574523899" x2="1085.1911233664446" y2="630.1652574523899" stroke="#1c1c1c" stroke-width="1"/>
<line x1="1082.1911233664446" y1="627.1652574523899" x2="1082.1911233664446" y2="633.1652574523899" stroke="#1c1c1c" stroke-width="1"/>
<circle cx="1082.1911233664446" cy="693.8347425476101" r="7.5" stroke="#1c1c1c" stroke-width="2.4" fill="none"/>
<circle cx="1082.1911233664446" cy="693.8347425476101" r="3" stroke="#1c1c1c" stroke-width="1.2" fill="none"/>
<line x1="1079.1911233664446" y1="693.8347425476101" x2="1085.1911233664446" y2="693.8347425476101" stroke="#1c1c1c" stroke-width="1"/>
<line x1="1082.1911233664446" y1="690.8347425476101" x2="1082.1911233664446" y2="696.8347425476101" stroke="#1c1c1c" stroke-width="1"/>
<circle cx="1321.7407282861336" cy="629.6476193621849" r="6.5" stroke="#1c1c1c" stroke-width="2.2" fill="#ccc"/>
<circle cx="1321.7407282861336" cy="629.6476193621849" r="2.5" stroke="#1c1c1c" stroke-width="1.2" fill="none"/>
<circle cx="1321.7407282861336" cy="694.3523806378151" r="6.5" stroke="#1c1c1c" stroke-width="2.2" fill="#ccc"/>
<circle cx="1321.7407282861336" cy="694.3523806378151" r="2.5" stroke="#1c1c1c" stroke-width="1.2" fill="none"/>
<circle cx="1108.850041640803" cy="744.9721951884984" r="6.5" stroke="#1c1c1c" stroke-width="2.6" fill="#888"/>
<circle cx="1293.149958359197" cy="744.9721951884984" r="6.5" stroke="#1c1c1c" stroke-width="2.6" fill="#888"/>
<circle cx="1270.2909649383464" cy="690.7012574273817" r="7.2" stroke="#1c1c1c" stroke-width="1.8" fill="none"/>
<line x1="1264.2909649383464" y1="690.7012574273817" x2="1276.2909649383464" y2="690.7012574273817" stroke="#1c1c1c" stroke-width="1.2"/>
<line x1="1270.2909649383464" y1="684.7012574273817" x2="1270.2909649383464" y2="696.7012574273817" stroke="#1c1c1c" stroke-width="1.2"/>
<polygon points="1266.1,700.9 1265.0,695.6 1270.6,697.9" fill="#333"/>
<polygon points="1274.5,680.5 1275.6,685.8 1270.0,683.5" fill="#333"/>
<circle cx="1229.7012574273817" cy="731.2909649383465" r="7.2" stroke="#1c1c1c" stroke-width="1.8" fill="none"/>
<line x1="1223.7012574273817" y1="731.2909649383465" x2="1235.7012574273817" y2="731.2909649383465" stroke="#1c1c1c" stroke-width="1.2"/>
<line x1="1229.7012574273817" y1="725.2909649383465" x2="1229.7012574273817" y2="737.2909649383465" stroke="#1c1c1c" stroke-width="1.2"/>
<polygon points="1219.5,735.5 1222.5,731.0 1224.8,736.6" fill="#333"/>
<polygon points="1239.9,727.1 1236.9,731.6 1234.6,726.0" fill="#333"/>
<circle cx="1172.2987425726183" cy="731.2909649383465" r="7.2" stroke="#1c1c1c" stroke-width="1.8" fill="none"/>
<line x1="1166.2987425726183" y1="731.2909649383465" x2="1178.2987425726183" y2="731.2909649383465" stroke="#1c1c1c" stroke-width="1.2"/>
<line x1="1172.2987425726183" y1="725.2909649383465" x2="1172.2987425726183" y2="737.2909649383465" stroke="#1c1c1c" stroke-width="1.2"/>
<polygon points="1162.1,727.1 1167.4,726.0 1165.1,731.6" fill="#333"/>
<polygon points="1182.5,735.5 1177.2,736.6 1179.5,731.0" fill="#333"/>
<circle cx="1131.7090350616536" cy="690.7012574273817" r="7.2" stroke="#1c1c1c" stroke-width="1.8" fill="none"/>
<line x1="1125.7090350616536" y1="690.7012574273817" x2="1137.7090350616536" y2="690.7012574273817" stroke="#1c1c1c" stroke-width="1.2"/>
<line x1="1131.7090350616536" y1="684.7012574273817" x2="1131.7090350616536" y2="696.7012574273817" stroke="#1c1c1c" stroke-width="1.2"/>
<polygon points="1127.5,680.5 1132.0,683.5 1126.4,685.8" fill="#333"/>
<polygon points="1135.9,700.9 1131.4,697.9 1137.0,695.6" fill="#333"/>
<circle cx="1131.7090350616536" cy="633.2987425726183" r="7.2" stroke="#1c1c1c" stroke-width="1.8" fill="none"/>
<line x1="1125.7090350616536" y1="633.2987425726183" x2="1137.7090350616536" y2="633.2987425726183" stroke="#1c1c1c" stroke-width="1.2"/>
<line x1="1131.7090350616536" y1="627.2987425726183" x2="1131.7090350616536" y2="639.2987425726183" stroke="#1c1c1c" stroke-width="1.2"/>
<polygon points="1135.9,623.1 1137.0,628.4 1131.4,626.1" fill="#333"/>
<polygon points="1127.5,643.5 1126.4,638.2 1132.0,640.5" fill="#333"/>
<circle cx="1172.2987425726183" cy="592.7090350616535" r="7.2" stroke="#1c1c1c" stroke-width="1.8" fill="none"/>
<line x1="1166.2987425726183" y1="592.7090350616535" x2="1178.2987425726183" y2="592.7090350616535" stroke="#1c1c1c" stroke-width="1.2"/>
<line x1="1172.2987425726183" y1="586.7090350616535" x2="1172.2987425726183" y2="598.7090350616535" stroke="#1c1c1c" stroke-width="1.2"/>
<polygon points="1182.5,588.5 1179.5,593.0 1177.2,587.4" fill="#333"/>
<polygon points="1162.1,596.9 1165.1,592.4 1167.4,598.0" fill="#333"/>
<circle cx="1229.7012574273817" cy="592.7090350616535" r="7.2" stroke="#1c1c1c" stroke-width="1.8" fill="none"/>
<line x1="1223.7012574273817" y1="592.7090350616535" x2="1235.7012574273817" y2="592.7090350616535" stroke="#1c1c1c" stroke-width="1.2"/>
<line x1="1229.7012574273817" y1="586.7090350616535" x2="1229.7012574273817" y2="598.7090350616535" stroke="#1c1c1c" stroke-width="1.2"/>
<polygon points="1239.9,596.9 1234.6,598.0 1236.9,592.4" fill="#333"/>
<polygon points="1219.5,588.5 1224.8,587.4 1222.5,593.0" fill="#333"/>
<circle cx="1270.2909649383464" cy="633.2987425726183" r="7.2" stroke="#1c1c1c" stroke-width="1.8" fill="none"/>
<line x1="1264.2909649383464" y1="633.2987425726183" x2="1276.2909649383464" y2="633.2987425726183" stroke="#1c1c1c" stroke-width="1.2"/>
<line x1="1270.2909649383464" y1="627.2987425726183" x2="1270.2909649383464" y2="639.2987425726183" stroke="#1c1c1c" stroke-width="1.2"/>
<polygon points="1274.5,643.5 1270.0,640.5 1275.6,638.2" fill="#333"/>
<polygon points="1266.1,623.1 1270.6,626.1 1265.0,628.4" fill="#333"/>
<line x1="1125.3" y1="725" x2="1068" y2="828" stroke="#1c1c1c" stroke-width="2.2"/>
<path d="M1126.5,740 Q1128,734 1134,737 L1163,755 Q1169,760 1163,764 L1108,809 Q1104,812.5 1099,812.5 L1088,812.5 Q1082,812 1085,806 Z" stroke="#1c1c1c" stroke-width="2" fill="none" />
<line x1="1186" y1="761.6" x2="1112" y2="828" stroke="#1c1c1c" stroke-width="2.2"/>
<line x1="1187.6" y1="766" x2="1129" y2="815" stroke="#1c1c1c" stroke-width="1.8"/>
<line x1="1149" y1="796" x2="1149" y2="817" stroke="#1c1c1c" stroke-width="1.6"/>
<line x1="1276.7" y1="725" x2="1334" y2="828" stroke="#1c1c1c" stroke-width="2.2"/>
<path d="M1275.5,740 Q1274,734 1268,737 L1239,755 Q1233,760 1239,764 L1294,809 Q1298,812.5 1303,812.5 L1314,812.5 Q1320,812 1317,806 Z" stroke="#1c1c1c" stroke-width="2" fill="none" />
<line x1="1216" y1="761.6" x2="1290" y2="828" stroke="#1c1c1c" stroke-width="2.2"/>
<line x1="1214.4" y1="766" x2="1273" y2="815" stroke="#1c1c1c" stroke-width="1.8"/>
<line x1="1253" y1="796" x2="1253" y2="817" stroke="#1c1c1c" stroke-width="1.6"/>
<line x1="1186" y1="761.6" x2="1216" y2="761.6" stroke="#1c1c1c" stroke-width="2.2"/>
<line x1="1187.6" y1="766" x2="1214.4" y2="766" stroke="#1c1c1c" stroke-width="1.8"/>
<path d="M1129,815 Q1127,818 1132,818 L1270,818 Q1275,818 1273,815" stroke="#1c1c1c" stroke-width="1.8" fill="none" />
<path d="M1246.5,787.0 A133,133 0 0,1 1155.5,787.0" stroke="#333" stroke-width="4" fill="none" />
<rect x="1192" y="778" width="20" height="17" rx="3" stroke="#1c1c1c" stroke-width="2.6" fill="none"/>
<line x1="1202" y1="778" x2="1202" y2="795" stroke="#1c1c1c" stroke-width="1.4"/>
<circle cx="1169" cy="784" r="5.5" stroke="#1c1c1c" stroke-width="2" fill="none"/>
<circle cx="1233" cy="784" r="5.5" stroke="#1c1c1c" stroke-width="2" fill="none"/>
<line x1="1051" y1="828" x2="1354" y2="828" stroke="#1c1c1c" stroke-width="3.4"/>
<line x1="1112" y1="828" x2="1150" y2="828" stroke="#1c1c1c" stroke-width="5"/>
<line x1="1253" y1="828" x2="1293" y2="828" stroke="#1c1c1c" stroke-width="5"/>
<line x1="1078" y1="819" x2="1078" y2="834" stroke="#1c1c1c" stroke-width="1.4"/>
<line x1="1084" y1="819" x2="1084" y2="834" stroke="#1c1c1c" stroke-width="1.4"/>
<line x1="1091" y1="819" x2="1091" y2="834" stroke="#1c1c1c" stroke-width="1.4"/>
<line x1="1318" y1="819" x2="1318" y2="834" stroke="#1c1c1c" stroke-width="1.4"/>
<rect x="1115" y="1064" width="174" height="15.5" rx="5" stroke="#1c1c1c" stroke-width="2.4" fill="none"/>
<line x1="1138" y1="1080" x2="1266" y2="1080" stroke="#1c1c1c" stroke-width="3"/>
<line x1="1151" y1="1064" x2="1251" y2="1064" stroke="#1c1c1c" stroke-width="3.2"/>
<line x1="1170" y1="1081" x2="1135" y2="1206" stroke="#1c1c1c" stroke-width="2.2"/>
<line x1="1233" y1="1081" x2="1265" y2="1201" stroke="#1c1c1c" stroke-width="2.2"/>
<path d="M1180,1084 L1222,1084 L1248,1178 A103,103 0 0,0 1155,1176 Z" stroke="#1c1c1c" stroke-width="2.2" fill="none" />
<path d="M1101.7,1369.9 A138,138 0 0,1 1151.5,1145.2" stroke="#1c1c1c" stroke-width="2.2" fill="none" />
<path d="M1252.7,1146.0 A138,138 0 0,1 1300.3,1369.9" stroke="#1c1c1c" stroke-width="2.2" fill="none" />
<path d="M1144,1177 A118,118 0 0,0 1116,1340" stroke="#1c1c1c" stroke-width="1.8" fill="none" />
<path d="M1147,1171 A116,116 0 0,0 1112,1338" stroke="#666" stroke-width="1.2" fill="none" />
<path d="M1256,1152 A127,127 0 0,1 1296,1362" stroke="#1c1c1c" stroke-width="1.8" fill="none" />
<circle cx="1201" cy="1274" r="93" stroke="#1c1c1c" stroke-width="3.4" fill="none"/>
<circle cx="1201" cy="1274" r="101" stroke="#444" stroke-width="1.4" fill="none"/>
<path d="M1167.8,1365.2 A97,97 0 1,1 1285.0,1225.5" stroke="#777" stroke-width="4" fill="none" />
<path d="M1149.5,1184.8 A103,103 0 0,1 1252.5,1184.8" stroke="#1c1c1c" stroke-width="1.6" fill="none" />
<circle cx="1201" cy="1274" r="62" stroke="#1c1c1c" stroke-width="2.2" fill="none"/>
<circle cx="1201" cy="1274" r="37.5" stroke="#1c1c1c" stroke-width="2.2" fill="none"/>
<line x1="1201" y1="1056" x2="1201" y2="1454" stroke="#1c1c1c" stroke-width="1.6" stroke-dasharray="40,4,4,4"/>
<circle cx="1114.0258659140547" cy="1187.0258659140547" r="7.5" stroke="#1c1c1c" stroke-width="2.4" fill="none"/>
<circle cx="1114.0258659140547" cy="1187.0258659140547" r="3" stroke="#1c1c1c" stroke-width="1.2" fill="none"/>
<line x1="1111.0258659140547" y1="1187.0258659140547" x2="1117.0258659140547" y2="1187.0258659140547" stroke="#1c1c1c" stroke-width="1"/>
<line x1="1114.0258659140547" y1="1184.0258659140547" x2="1114.0258659140547" y2="1190.0258659140547" stroke="#1c1c1c" stroke-width="1"/>
<circle cx="1082.1911233664446" cy="1242.1652574523898" r="7.5" stroke="#1c1c1c" stroke-width="2.4" fill="none"/>
<circle cx="1082.1911233664446" cy="1242.1652574523898" r="3" stroke="#1c1c1c" stroke-width="1.2" fill="none"/>
<line x1="1079.1911233664446" y1="1242.1652574523898" x2="1085.1911233664446" y2="1242.1652574523898" stroke="#1c1c1c" stroke-width="1"/>
<line x1="1082.1911233664446" y1="1239.1652574523898" x2="1082.1911233664446" y2="1245.1652574523898" stroke="#1c1c1c" stroke-width="1"/>
<circle cx="1082.1911233664446" cy="1305.8347425476102" r="7.5" stroke="#1c1c1c" stroke-width="2.4" fill="none"/>
<circle cx="1082.1911233664446" cy="1305.8347425476102" r="3" stroke="#1c1c1c" stroke-width="1.2" fill="none"/>
<line x1="1079.1911233664446" y1="1305.8347425476102" x2="1085.1911233664446" y2="1305.8347425476102" stroke="#1c1c1c" stroke-width="1"/>
<line x1="1082.1911233664446" y1="1302.8347425476102" x2="1082.1911233664446" y2="1308.8347425476102" stroke="#1c1c1c" stroke-width="1"/>
<circle cx="1321.7407282861336" cy="1241.647619362185" r="6.5" stroke="#1c1c1c" stroke-width="2.2" fill="#ccc"/>
<circle cx="1321.7407282861336" cy="1241.647619362185" r="2.5" stroke="#1c1c1c" stroke-width="1.2" fill="none"/>
<circle cx="1321.7407282861336" cy="1306.352380637815" r="6.5" stroke="#1c1c1c" stroke-width="2.2" fill="#ccc"/>
<circle cx="1321.7407282861336" cy="1306.352380637815" r="2.5" stroke="#1c1c1c" stroke-width="1.2" fill="none"/>
<circle cx="1108.850041640803" cy="1356.9721951884985" r="6.5" stroke="#1c1c1c" stroke-width="2.6" fill="#888"/>
<circle cx="1293.149958359197" cy="1356.9721951884985" r="6.5" stroke="#1c1c1c" stroke-width="2.6" fill="#888"/>
<circle cx="1254.0330085889912" cy="1327.0330085889912" r="7.2" stroke="#1c1c1c" stroke-width="1.8" fill="none"/>
<line x1="1248.0330085889912" y1="1327.0330085889912" x2="1260.0330085889912" y2="1327.0330085889912" stroke="#1c1c1c" stroke-width="1.2"/>
<line x1="1254.0330085889912" y1="1321.0330085889912" x2="1254.0330085889912" y2="1333.0330085889912" stroke="#1c1c1c" stroke-width="1.2"/>
<polygon points="1246.3,1334.8 1247.3,1329.5 1251.6,1333.8" fill="#333"/>
<polygon points="1261.8,1319.3 1260.8,1324.6 1256.5,1320.3" fill="#333"/>
<circle cx="1147.9669914110088" cy="1327.0330085889912" r="7.2" stroke="#1c1c1c" stroke-width="1.8" fill="none"/>
<line x1="1141.9669914110088" y1="1327.0330085889912" x2="1153.9669914110088" y2="1327.0330085889912" stroke="#1c1c1c" stroke-width="1.2"/>
<line x1="1147.9669914110088" y1="1321.0330085889912" x2="1147.9669914110088" y2="1333.0330085889912" stroke="#1c1c1c" stroke-width="1.2"/>
<polygon points="1140.2,1319.3 1145.5,1320.3 1141.2,1324.6" fill="#333"/>
<polygon points="1155.7,1334.8 1150.4,1333.8 1154.7,1329.5" fill="#333"/>
<circle cx="1147.9669914110088" cy="1220.9669914110088" r="7.2" stroke="#1c1c1c" stroke-width="1.8" fill="none"/>
<line x1="1141.9669914110088" y1="1220.9669914110088" x2="1153.9669914110088" y2="1220.9669914110088" stroke="#1c1c1c" stroke-width="1.2"/>
<line x1="1147.9669914110088" y1="1214.9669914110088" x2="1147.9669914110088" y2="1226.9669914110088" stroke="#1c1c1c" stroke-width="1.2"/>
<polygon points="1155.7,1213.2 1154.7,1218.5 1150.4,1214.2" fill="#333"/>
<polygon points="1140.2,1228.7 1141.2,1223.4 1145.5,1227.7" fill="#333"/>
<circle cx="1254.0330085889912" cy="1220.9669914110088" r="7.2" stroke="#1c1c1c" stroke-width="1.8" fill="none"/>
<line x1="1248.0330085889912" y1="1220.9669914110088" x2="1260.0330085889912" y2="1220.9669914110088" stroke="#1c1c1c" stroke-width="1.2"/>
<line x1="1254.0330085889912" y1="1214.9669914110088" x2="1254.0330085889912" y2="1226.9669914110088" stroke="#1c1c1c" stroke-width="1.2"/>
<polygon points="1261.8,1228.7 1256.5,1227.7 1260.8,1223.4" fill="#333"/>
<polygon points="1246.3,1213.2 1251.6,1214.2 1247.3,1218.5" fill="#333"/>
<line x1="1125.3" y1="1337" x2="1068" y2="1440" stroke="#1c1c1c" stroke-width="2.2"/>
<path d="M1126.5,1352 Q1128,1346 1134,1349 L1163,1367 Q1169,1372 1163,1376 L1108,1421 Q1104,1424.5 1099,1424.5 L1088,1424.5 Q1082,1424 1085,1418 Z" stroke="#1c1c1c" stroke-width="2" fill="none" />
<line x1="1186" y1="1373.6" x2="1112" y2="1440" stroke="#1c1c1c" stroke-width="2.2"/>
<line x1="1187.6" y1="1378" x2="1129" y2="1427" stroke="#1c1c1c" stroke-width="1.8"/>
<line x1="1149" y1="1408" x2="1149" y2="1429" stroke="#1c1c1c" stroke-width="1.6"/>
<line x1="1276.7" y1="1337" x2="1334" y2="1440" stroke="#1c1c1c" stroke-width="2.2"/>
<path d="M1275.5,1352 Q1274,1346 1268,1349 L1239,1367 Q1233,1372 1239,1376 L1294,1421 Q1298,1424.5 1303,1424.5 L1314,1424.5 Q1320,1424 1317,1418 Z" stroke="#1c1c1c" stroke-width="2" fill="none" />
<line x1="1216" y1="1373.6" x2="1290" y2="1440" stroke="#1c1c1c" stroke-width="2.2"/>
<line x1="1214.4" y1="1378" x2="1273" y2="1427" stroke="#1c1c1c" stroke-width="1.8"/>
<line x1="1253" y1="1408" x2="1253" y2="1429" stroke="#1c1c1c" stroke-width="1.6"/>
<line x1="1186" y1="1373.6" x2="1216" y2="1373.6" stroke="#1c1c1c" stroke-width="2.2"/>
<line x1="1187.6" y1="1378" x2="1214.4" y2="1378" stroke="#1c1c1c" stroke-width="1.8"/>
<path d="M1129,1427 Q1127,1430 1132,1430 L1270,1430 Q1275,1430 1273,1427" stroke="#1c1c1c" stroke-width="1.8" fill="none" />
<path d="M1246.5,1399.0 A133,133 0 0,1 1155.5,1399.0" stroke="#333" stroke-width="4" fill="none" />
<rect x="1192" y="1390" width="20" height="17" rx="3" stroke="#1c1c1c" stroke-width="2.6" fill="none"/>
<line x1="1202" y1="1390" x2="1202" y2="1407" stroke="#1c1c1c" stroke-width="1.4"/>
<circle cx="1169" cy="1396" r="5.5" stroke="#1c1c1c" stroke-width="2" fill="none"/>
<circle cx="1233" cy="1396" r="5.5" stroke="#1c1c1c" stroke-width="2" fill="none"/>
<line x1="1051" y1="1440" x2="1354" y2="1440" stroke="#1c1c1c" stroke-width="3.4"/>
<line x1="1112" y1="1440" x2="1150" y2="1440" stroke="#1c1c1c" stroke-width="5"/>
<line x1="1253" y1="1440" x2="1293" y2="1440" stroke="#1c1c1c" stroke-width="5"/>
<line x1="1078" y1="1431" x2="1078" y2="1446" stroke="#1c1c1c" stroke-width="1.4"/>
<line x1="1084" y1="1431" x2="1084" y2="1446" stroke="#1c1c1c" stroke-width="1.4"/>
<line x1="1091" y1="1431" x2="1091" y2="1446" stroke="#1c1c1c" stroke-width="1.4"/>
<line x1="1318" y1="1431" x2="1318" y2="1446" stroke="#1c1c1c" stroke-width="1.4"/>
<line x1="1081" y1="315" x2="1333" y2="315" stroke="#1c1c1c" stroke-width="1.8"/>
<line x1="1081" y1="315" x2="1133" y2="625" stroke="#1c1c1c" stroke-width="1.6"/>
<polygon points="1133.0,626.0 1128.2,614.6 1133.7,613.7" fill="#111"/>
<text x="1094" y="310" font-size="22" textLength="238.5" lengthAdjust="spacingAndGlyphs" fill="#1a1a1a" class="dt">N°8 HOLES ø18 STANDARD</text>
<line x1="1062.5" y1="382" x2="1062.5" y2="662" stroke="#1c1c1c" stroke-width="1.6"/>
<line x1="1341.5" y1="382" x2="1341.5" y2="627" stroke="#1c1c1c" stroke-width="1.6"/>
<line x1="1062.5" y1="386.5" x2="1341.5" y2="386.5" stroke="#1c1c1c" stroke-width="1.8"/>
<polygon points="1062.5,386.5 1074.5,383.7 1074.5,389.3" fill="#111"/>
<polygon points="1341.5,386.5 1329.5,389.3 1329.5,383.7" fill="#111"/>
<text x="1185.5" y="383.5" font-size="24.5" textLength="33.0" lengthAdjust="spacingAndGlyphs" fill="#1a1a1a" class="dt">296</text>
<line x1="1289" y1="452" x2="1473" y2="452" stroke="#1c1c1c" stroke-width="1.8"/>
<line x1="1357" y1="662" x2="1436" y2="662" stroke="#1c1c1c" stroke-width="1.6"/>
<line x1="1357" y1="829" x2="1473" y2="829" stroke="#1c1c1c" stroke-width="1.8"/>
<line x1="1430.7" y1="452" x2="1430.7" y2="661" stroke="#1c1c1c" stroke-width="1.8"/>
<polygon points="1430.7,452.0 1433.5,464.0 1427.9,464.0" fill="#111"/>
<polygon points="1430.7,661.0 1427.9,649.0 1433.5,649.0" fill="#111"/>
<line x1="1430.7" y1="662" x2="1430.7" y2="829" stroke="#1c1c1c" stroke-width="1.8"/>
<polygon points="1430.7,662.0 1433.5,674.0 1427.9,674.0" fill="#111"/>
<polygon points="1430.7,829.0 1427.9,817.0 1433.5,817.0" fill="#111"/>
<line x1="1468" y1="452" x2="1468" y2="829" stroke="#1c1c1c" stroke-width="1.8"/>
<polygon points="1468.0,452.0 1470.8,464.0 1465.2,464.0" fill="#111"/>
<polygon points="1468.0,829.0 1465.2,817.0 1470.8,817.0" fill="#111"/>
<text transform="translate(1429,573) rotate(-90)" x="0" y="0" font-size="24.5" textLength="33" lengthAdjust="spacingAndGlyphs" fill="#1a1a1a" class="dt">225</text>
<text transform="translate(1466.7,657.3) rotate(-90)" x="0" y="0" font-size="24.5" textLength="34.59999999999991" lengthAdjust="spacingAndGlyphs" fill="#1a1a1a" class="dt">405</text>
<text transform="translate(1429,761) rotate(-90)" x="0" y="0" font-size="24.5" textLength="32" lengthAdjust="spacingAndGlyphs" fill="#1a1a1a" class="dt">180</text>
<line x1="1053" y1="662" x2="1357" y2="662" stroke="#1c1c1c" stroke-width="1.5" stroke-dasharray="34,4,4,4"/>
<line x1="1010" y1="688" x2="1276" y2="652" stroke="#1c1c1c" stroke-width="1.6"/>
<text transform="translate(1013,681.6) rotate(-6)" x="0" y="0" font-size="21" textLength="37" lengthAdjust="spacingAndGlyphs" fill="#1a1a1a" class="dt">ø160</text>
<line x1="1051" y1="834" x2="1051" y2="965" stroke="#1c1c1c" stroke-width="1.6"/>
<line x1="1352.5" y1="834" x2="1352.5" y2="965" stroke="#1c1c1c" stroke-width="1.6"/>
<line x1="1051" y1="960.3" x2="1352.5" y2="960.3" stroke="#1c1c1c" stroke-width="1.8"/>
<polygon points="1051.0,960.3 1063.0,957.5 1063.0,963.1" fill="#111"/>
<polygon points="1352.5,960.3 1340.5,963.1 1340.5,957.5" fill="#111"/>
<text x="1185" y="955" font-size="24.5" textLength="32" lengthAdjust="spacingAndGlyphs" fill="#1a1a1a" class="dt">320</text>
<line x1="1083.7" y1="820" x2="1083.7" y2="927" stroke="#1c1c1c" stroke-width="1.6"/>
<line x1="1318.4" y1="820" x2="1318.4" y2="927" stroke="#1c1c1c" stroke-width="1.6"/>
<line x1="1083.7" y1="923" x2="1318.4" y2="923" stroke="#1c1c1c" stroke-width="1.8"/>
<polygon points="1083.7,923.0 1095.7,920.2 1095.7,925.8" fill="#111"/>
<polygon points="1318.4,923.0 1306.4,925.8 1306.4,920.2" fill="#111"/>
<text x="1185" y="917.6" font-size="24.5" textLength="32" lengthAdjust="spacingAndGlyphs" fill="#1a1a1a" class="dt">250</text>
<line x1="1078.4" y1="834" x2="1078.4" y2="890" stroke="#1c1c1c" stroke-width="1.4"/>
<line x1="1091.2" y1="834" x2="1091.2" y2="890" stroke="#1c1c1c" stroke-width="1.4"/>
<line x1="1051" y1="885.6" x2="1202" y2="885.6" stroke="#1c1c1c" stroke-width="1.6"/>
<polygon points="1078.4,885.6 1066.4,888.4 1066.4,882.8" fill="#111"/>
<polygon points="1091.2,885.6 1103.2,882.8 1103.2,888.4" fill="#111"/>
<text x="1122" y="880.3" font-size="22" textLength="11" lengthAdjust="spacingAndGlyphs" fill="#1a1a1a" class="dt">4</text>
<text x="1144.5" y="878.3" font-size="22" textLength="11.5" lengthAdjust="spacingAndGlyphs" fill="#1a1a1a" class="dt">-</text>
<text x="1169" y="880.3" font-size="22" textLength="30" lengthAdjust="spacingAndGlyphs" fill="#1a1a1a" class="dt">ø15</text>
<line x1="1080" y1="1042.4" x2="1354" y2="1042.4" stroke="#1c1c1c" stroke-width="1.8"/>
<line x1="1080" y1="1042.4" x2="1142" y2="1212" stroke="#1c1c1c" stroke-width="1.6"/>
<polygon points="1143.0,1214.0 1136.3,1203.7 1141.6,1201.8" fill="#111"/>
<text x="1094.4" y="1037.4" font-size="22" textLength="258.5999999999999" lengthAdjust="spacingAndGlyphs" fill="#1a1a1a" class="dt">N°4 HOLES ø18 ON REQUEST</text>
<line x1="1052" y1="1274" x2="1352" y2="1274" stroke="#1c1c1c" stroke-width="1.5" stroke-dasharray="34,4,4,4"/>
<text x="420" y="414" font-size="22" textLength="53" lengthAdjust="spacingAndGlyphs" fill="#1a1a1a" class="dt">PG 21</text>
<line x1="413" y1="420" x2="478" y2="420" stroke="#1c1c1c" stroke-width="1.8"/>
<line x1="478" y1="420" x2="473" y2="514" stroke="#1c1c1c" stroke-width="1.6"/>
<line x1="478" y1="420" x2="521" y2="514" stroke="#1c1c1c" stroke-width="1.6"/>
<polygon points="473.0,516.0 470.8,503.9 476.4,504.2" fill="#111"/>
<polygon points="522.0,516.0 514.9,505.9 520.1,503.8" fill="#111"/>
<defs>
<linearGradient id="gb" gradientUnits="userSpaceOnUse" x1="0" y1="58" x2="0" y2="160"><stop offset="0" stop-color="#29aae2"/><stop offset="1" stop-color="#158fd2"/></linearGradient>
<linearGradient id="ga" gradientUnits="userSpaceOnUse" x1="46" y1="38" x2="84" y2="108"><stop offset="0" stop-color="#2a9ee0" stop-opacity="0"/><stop offset="0.45" stop-color="#2a9ee0" stop-opacity="0.6"/><stop offset="1" stop-color="#1d98d8" stop-opacity="1"/></linearGradient>
<linearGradient id="gy" gradientUnits="userSpaceOnUse" x1="0" y1="106" x2="0" y2="160"><stop offset="0" stop-color="#f7c914"/><stop offset="1" stop-color="#eda320"/></linearGradient>
</defs>
<path d="M37.5,53.9 L67.3,32.5 L107.5,98.7 L104,112 L90.7,157.5 Z" fill="url(#ga)"/>
<path d="M72,122 L104,104 L107.5,98.7 L115.9,81 Q119,74 120.5,71.7 Q126,63 132.7,60.5 Q142,58.5 150.4,63.3 L153.6,66.5 Q148,69 144.8,72.6 Q139,80 136.5,90 Q133,103 130.5,118 Q127,137 122,148 Q117,158 105,159.5 Q95,159.5 90.7,157.5 Z" fill="url(#gb)"/>
<polygon points="39.3,51.6 41.3,50.6 68.6,106.2" fill="#fff" opacity="0.92"/>
<polygon points="44.9,46.5 46.9,45.5 74.2,101.1" fill="#fff" opacity="0.92"/>
<polygon points="51.0,41.9 53.0,40.9 79.4,94.7" fill="#fff" opacity="0.92"/>
<polygon points="57.0,37.6 59.0,36.6 84.5,88.7" fill="#fff" opacity="0.92"/>
<polygon points="63.0,34.4 65.0,33.4 87.8,80.1" fill="#fff" opacity="0.92"/>
<path d="M80,135 Q98,152 124,138 L120,152 Q112,160 101,159.5 Q93,159 89,153 Z" fill="#0f84c8" opacity="0.3"/>
<circle cx="140.1" cy="65.1" r="2.2" fill="#fff"/>
<circle cx="143" cy="114.3" r="4.8" fill="#1a96d4"/>
<path d="M139.3,125.7 L147,124.3 L146.3,156.7 L138.3,158.3 Z" fill="#1a96d4"/>
<path fill-rule="evenodd" fill="#1a96d4" d="M178.7,107.3 L187.3,106.3 L187.3,141.5 A18.2,18.2 0 1,1 169,123.3 A18,18 0 0 1 178.7,126 Z M168.2,129 A8.5,12.5 0 1,0 168.2,154 A8.5,12.5 0 1,0 168.2,129 Z"/>
<g stroke="url(#gy)" stroke-width="7.3" fill="none">
<path d="M196,158.5 L196,119 Q196,110 205,109.5 Q214,109 219,112"/>
<path d="M192.3,128 L211.3,128"/>
<circle cx="230.3" cy="141" r="13.6"/><path d="M245.6,124 L245.6,158.7"/>
<path d="M281,131.5 A13.8,13.8 0 1,0 281,150.5"/>
<path d="M290.7,111.3 L290.7,148 Q291,155 299,155 L304,155"/><path d="M286.7,128.7 L304,128.7"/>
<circle cx="325.3" cy="141" r="14.3"/>
<path d="M350,124 L350,158.7"/><path d="M350,142 Q351,128 369,128"/>
</g>
</g>
</svg></body></html>
